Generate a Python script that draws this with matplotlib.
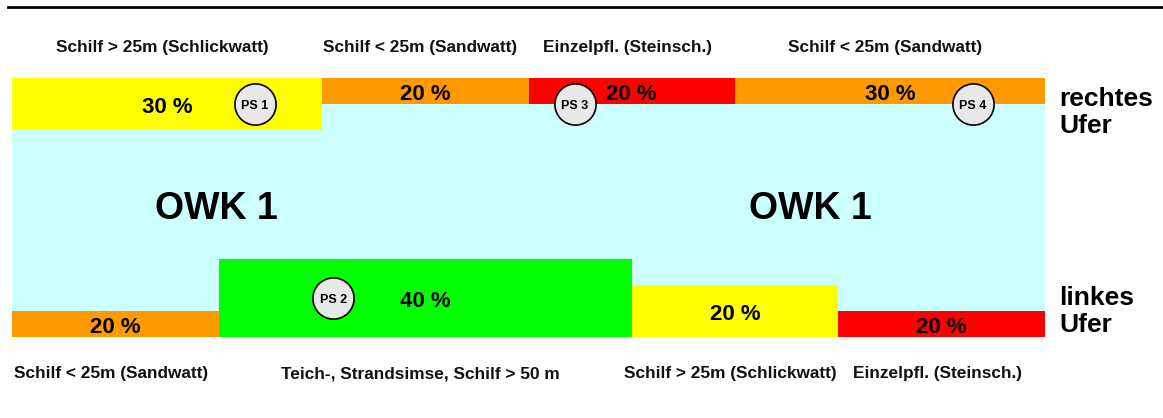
import matplotlib
matplotlib.use("Agg")
import matplotlib.pyplot as plt
from matplotlib.lines import Line2D

plt.rcParams['font.family'] = ['Liberation Sans', 'DejaVu Sans']
plt.rcParams['font.weight'] = 'bold'

# rechtes Ufer (oben), Anteile in % der Strecke
top_labels = ["Schilf > 25m (Schlickwatt)", "Schilf < 25m (Sandwatt)",
              "Einzelpfl. (Steinsch.)", "Schilf < 25m (Sandwatt)"]
top_share = [30, 20, 20, 30]
top_level = [2, 1, 1, 1]

# linkes Ufer (unten)
bottom_labels = ["Schilf < 25m (Sandwatt)", "Teich-, Strandsimse, Schilf > 50 m",
                 "Schilf > 25m (Schlickwatt)", "Einzelpfl. (Steinsch.)"]
bottom_share = [20, 40, 20, 20]
bottom_level = [1, 3, 2, 1]

# Probestellen
ps_names = ["PS 1", "PS 2", "PS 3", "PS 4"]
ps_x = [23.5, 31.1, 54.5, 93.0]
ps_y = [9.0, 1.5, 9.0, 9.0]

# Wasserkörper
owk_names = ["OWK 1", "OWK 1"]
owk_x = [19.8, 77.3]

top_colors = ["#FFFF00", "#FF9900", "#FF0000", "#FF9900"]
bottom_colors = ["#FF9900", "#00FF00", "#FFFF00", "#FF0000"]
water_color = "#CCFFFF"
total = 100
depth = 10

W, H = 1163, 418
fig = plt.figure(figsize=(W / 100, H / 100), dpi=100)
ax = fig.add_axes([12 / W, (H - 337) / H, 1033 / W, 259 / H])
ax.set_xlim(0, total)
ax.set_ylim(0, depth)
ax.axis('off')

# Wasserfläche
ax.bar(0, depth, width=total, bottom=0, align='edge', color=water_color, zorder=1)

# rechtes Ufer
left = 0
for share, level, col, lab in zip(top_share, top_level, top_colors, top_labels):
    ax.bar(left, level, width=share, bottom=depth - level, align='edge', color=col, zorder=2)
    ax.text(left + share / 2, depth - level / 2 - 0.13, f"{share} %", ha='center', va='center',
            fontsize=16, fontweight='bold', zorder=4)
    ax.text(left + share / 2 - 0.45, 11.16, lab, ha='center', va='center', fontsize=12.4,
            fontweight='bold', color='#111111')
    left += share

# linkes Ufer
left = 0
for share, level, col, lab in zip(bottom_share, bottom_level, bottom_colors, bottom_labels):
    ax.bar(left, level, width=share, bottom=0, align='edge', color=col, zorder=2)
    ax.text(left + share / 2, level / 2 - 0.13, f"{share} %", ha='center', va='center',
            fontsize=16, fontweight='bold', zorder=4)
    ax.text(left + share / 2 - 0.45, -1.42, lab, ha='center', va='center', fontsize=12.4,
            fontweight='bold', color='#111111')
    left += share

for name, x in zip(owk_names, owk_x):
    ax.text(x, depth / 2 - 0.05, name, ha='center', va='center', fontsize=27, fontweight='bold')

# Probestellen als Kreise
ax.scatter(ps_x, ps_y, s=880, marker='o', facecolor='#E8E8E8', edgecolor='black',
           linewidth=1.2, zorder=5, clip_on=False)
for name, x, y in zip(ps_names, ps_x, ps_y):
    ax.text(x, y - 0.08, name, ha='center', va='center', fontsize=9, fontweight='bold', zorder=6)

ax.text(101.4, 8.67, "rechtes\nUfer", ha='left', va='center', fontsize=19,
        fontweight='bold', linespacing=1.15)
ax.text(101.4, 0.97, "linkes\nUfer", ha='left', va='center', fontsize=19,
        fontweight='bold', linespacing=1.15)

fig.add_artist(Line2D([8 / W, 1], [1 - 7 / H, 1 - 7 / H], color='black', linewidth=2))

fig.savefig("out.png", dpi=100)
